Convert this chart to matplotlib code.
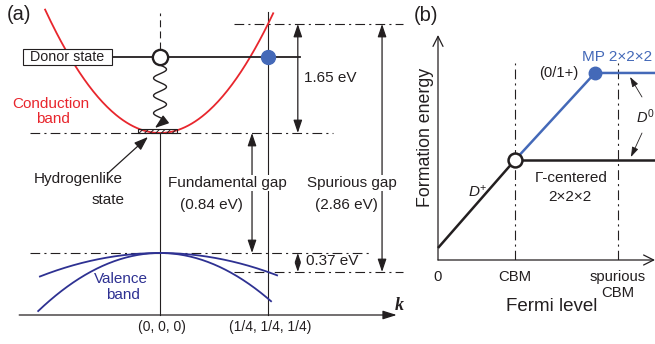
import matplotlib
matplotlib.use('Agg')
import matplotlib.pyplot as plt
import numpy as np
from matplotlib.patches import Rectangle

plt.rcParams['font.family'] = ['Liberation Sans', 'DejaVu Sans']
plt.rcParams['lines.scale_dashes'] = False
plt.rcParams['hatch.linewidth'] = 0.7
plt.rcParams['mathtext.fontset'] = 'custom'
plt.rcParams['mathtext.it'] = 'Liberation Sans:italic'
plt.rcParams['mathtext.rm'] = 'Liberation Sans'

# ---------------- data: panel (a) (schematic energy units) ----------------
k_points = [0.0, 0.25]
k_labels = ['(0, 0, 0)', '(1/4, 1/4, 1/4)']
E_vbm = 0.0
E_cbm = 1.20
E_donor = 1.96
E_spur_cbm = 2.29
E_spur_vbm = -0.19
E_kaxis = -0.62
gap_labels = ['1.65 eV', 'Fundamental gap', '(0.84 eV)', 'Spurious gap', '(2.86 eV)', '0.37 eV']
vb_heavy_curv = 7.3

# ---------------- data: panel (b) (schematic units) ----------------
fermi_ticks = [0.0, 1.0, 2.338]
fermi_labels = ['0', 'CBM', 'spurious']
Dplus_x = [0.0, 1.0]
Dplus_y = [0.156, 1.299]
gamma_x = [1.0, 2.818]
gamma_y = [1.299, 1.299]
mp_x = [1.0, 2.039, 2.818]
mp_y = [1.299, 2.429, 2.429]

TXT = '#231f20'
RED = '#e8262d'
NAVY = '#2e3192'
BLUE = '#4469b8'
DD = (0, (7, 3, 1.5, 3))

fig = plt.figure(figsize=(6.55, 3.44), dpi=100)

# ======================= panel (a) =======================
axa = fig.add_axes([0, 0, 410 / 655, 1])
axa.set_xlim(-0.3704, 0.5787)
axa.set_ylim(-0.91, 2.53)
axa.axis('off')
axa.patch.set_visible(False)

# dash-dot reference levels
axa.plot([-0.301, 0.400], [E_cbm, E_cbm], color=TXT, lw=0.8, ls=DD)
axa.plot([-0.301, 0.491], [E_vbm, E_vbm], color=TXT, lw=0.8, ls=DD)
axa.plot([0.171, 0.562], [E_spur_cbm, E_spur_cbm], color=TXT, lw=0.8, ls=DD)
axa.plot([0.171, 0.562], [E_spur_vbm, E_spur_vbm], color=TXT, lw=0.8, ls=DD)

# vertical k lines
axa.plot([k_points[0]] * 2, [E_kaxis, E_cbm], color=TXT, lw=0.8)
axa.plot([k_points[0]] * 2, [2.04, 2.40], color=TXT, lw=0.8, ls=(0, (5, 3)))
axa.plot([k_points[1]] * 2, [E_kaxis, 2.41], color=TXT, lw=0.8)

# k axis
axa.annotate('', xy=(0.548, E_kaxis), xytext=(-0.326, E_kaxis),
             arrowprops=dict(arrowstyle='-|>,head_length=0.7,head_width=0.22', lw=0.9,
                             color=TXT, mutation_scale=12, shrinkA=0, shrinkB=0))
axa.text(0.553, -0.52, 'k', family='Liberation Serif', fontweight='bold', style='italic',
         fontsize=13, color=TXT, ha='center', va='center')
for kp, kl in zip(k_points, k_labels):
    axa.text(kp + 0.005, -0.74, kl, ha='center', va='center', fontsize=10, color=TXT)

# conduction band
c_cb = (E_spur_cbm - E_cbm) / k_points[1] ** 2
kk = np.linspace(-0.266, 0.262, 200)
axa.plot(kk, E_cbm + c_cb * kk ** 2, color=RED, lw=1.3)

# valence bands
c_vl = (E_vbm - E_spur_vbm) / k_points[1] ** 2
kk = np.linspace(-0.278, 0.271, 200)
axa.plot(kk, E_vbm - c_vl * kk ** 2, color=NAVY, lw=1.3)
kk = np.linspace(-0.282, 0.257, 200)
axa.plot(kk, E_vbm - vb_heavy_curv * kk ** 2, color=NAVY, lw=1.3)

# hydrogenlike hatched state
axa.add_patch(Rectangle((-0.05, E_cbm), 0.09, 0.045, fill=False, hatch='//////',
                        ec=TXT, lw=0.8, zorder=4))

# donor level
axa.plot([-0.15, 0.324], [E_donor, E_donor], color=TXT, lw=1.3, zorder=2)
axa.add_patch(Rectangle((-0.317, 1.88), 0.206, 0.16, fc='white', ec=TXT, lw=0.8, zorder=3))
axa.text(-0.214, E_donor, 'Donor state', ha='center', va='center', fontsize=10.3,
         color=TXT, zorder=4)
axa.plot(k_points[0], E_donor, 'o', ms=11, mfc='white', mec=TXT, mew=1.7, zorder=6)
axa.plot(k_points[1], E_donor, 'o', ms=10, color=BLUE, zorder=6)

# wavy transition
ew = np.linspace(1.88, 1.33, 200)
kw = 0.015 * np.sin(2 * np.pi * (1.88 - ew) / 0.175)
axa.plot(kw, ew, color=TXT, lw=1.0, zorder=5)
axa.annotate('', xy=(-0.012, 1.25), xytext=(kw[-1], ew[-1]),
             arrowprops=dict(arrowstyle='-|>,head_length=0.7,head_width=0.25', lw=1.0,
                             color=TXT, mutation_scale=12, shrinkA=0, shrinkB=0), zorder=5)

# hydrogenlike pointer
axa.annotate('', xy=(-0.028, 1.16), xytext=(-0.120, 0.80),
             arrowprops=dict(arrowstyle='-|>,head_length=0.7,head_width=0.25', lw=0.9,
                             color=TXT, mutation_scale=12, shrinkA=0, shrinkB=0))

# gap arrows
def darrow(x, y0, y1, ms=12):
    axa.annotate('', xy=(x, y1), xytext=(x, y0),
                 arrowprops=dict(arrowstyle='<|-|>,head_length=0.65,head_width=0.22', lw=0.9,
                                 color=TXT, mutation_scale=ms, shrinkA=0, shrinkB=0))

darrow(0.319, E_cbm, E_spur_cbm)
darrow(0.213, E_vbm, E_cbm)
darrow(0.514, E_spur_vbm, E_spur_cbm)
darrow(0.319, E_spur_vbm, E_vbm, ms=8)

fs = 11
wb = dict(boxstyle='square,pad=0.05', fc='white', ec='none')
axa.text(0.333, 1.75, gap_labels[0], ha='left', va='center', fontsize=fs, color=TXT)
axa.text(0.155, 0.70, gap_labels[1], ha='center', va='center', fontsize=fs, color=TXT, bbox=wb)
axa.text(0.118, 0.48, gap_labels[2], ha='center', va='center', fontsize=fs, color=TXT, bbox=wb)
axa.text(0.444, 0.70, gap_labels[3], ha='center', va='center', fontsize=fs, color=TXT, bbox=wb)
axa.text(0.431, 0.48, gap_labels[4], ha='center', va='center', fontsize=fs, color=TXT, bbox=wb)
axa.text(0.338, -0.08, gap_labels[5], ha='left', va='center', fontsize=fs, color=TXT)

axa.text(-0.252, 1.49, 'Conduction', ha='center', va='center', fontsize=fs, color=RED)
axa.text(-0.248, 1.34, 'band', ha='center', va='center', fontsize=fs, color=RED)
axa.text(-0.190, 0.74, 'Hydrogenlike', ha='center', va='center', fontsize=fs, color=TXT)
axa.text(-0.120, 0.53, 'state', ha='center', va='center', fontsize=fs, color=TXT)
axa.text(-0.090, -0.26, 'Valence', ha='center', va='center', fontsize=fs, color=NAVY)
axa.text(-0.086, -0.42, 'band', ha='center', va='center', fontsize=fs, color=NAVY)
axa.text(-0.355, 2.38, '(a)', ha='left', va='center', fontsize=14.5, color=TXT)

# ======================= panel (b) =======================
axb = fig.add_axes([438 / 655, 84 / 344, 217 / 655, 225 / 344])
axb.set_xlim(0, 2.818)
axb.set_ylim(0, 2.922)
axb.axis('off')
axb.patch.set_visible(False)

axb.annotate('', xy=(0, 2.922), xytext=(0, 0),
             arrowprops=dict(arrowstyle='->,head_length=0.6,head_width=0.3', lw=0.9,
                             color=TXT, mutation_scale=12, shrinkA=0, shrinkB=0),
             annotation_clip=False)
axb.annotate('', xy=(2.818, 0), xytext=(0, 0),
             arrowprops=dict(arrowstyle='->,head_length=0.6,head_width=0.3', lw=0.9,
                             color=TXT, mutation_scale=12, shrinkA=0, shrinkB=0),
             annotation_clip=False)

for fx in fermi_ticks[1:]:
    axb.plot([fx, fx], [0, 2.558], color=TXT, lw=0.8, ls=DD)

axb.plot(mp_x, mp_y, color=BLUE, lw=1.8, solid_capstyle='butt', clip_on=False)
axb.plot(Dplus_x, Dplus_y, color=TXT, lw=1.8, solid_capstyle='butt', clip_on=False)
axb.plot(gamma_x, gamma_y, color=TXT, lw=1.8, solid_capstyle='butt', clip_on=False)
axb.plot(Dplus_x[1], Dplus_y[1], 'o', ms=10, mfc='white', mec=TXT, mew=1.8, zorder=6)
axb.plot(mp_x[1], mp_y[1], 'o', ms=9, color=BLUE, zorder=6)

for fx, fl in zip(fermi_ticks, fermi_labels):
    axb.text(fx, -0.221, fl, ha='center', va='center', fontsize=10.7, color=TXT)
axb.text(fermi_ticks[2], -0.429, 'CBM', ha='center', va='center', fontsize=10.7, color=TXT)
axb.text(1.48, -0.61, 'Fermi level', ha='center', va='center', fontsize=13.5, color=TXT)
axb.text(-0.156, 1.597, 'Formation energy', ha='center', va='center', rotation=90,
         fontsize=12.8, color=TXT)

axb.text(1.870, 2.636, 'MP 2\u00d72\u00d72', ha='left', va='center', fontsize=11, color=BLUE)
axb.text(1.818, 2.429, '(0/1+)', ha='right', va='center', fontsize=10.6, color=TXT)
axb.text(1.734, 1.065, '\u0393-centered', ha='center', va='center', fontsize=11, color=TXT)
axb.text(1.708, 0.818, '2\u00d72\u00d72', ha='center', va='center', fontsize=11, color=TXT)
axb.text(0.39, 0.883, '$D^{+}$', ha='left', va='center', fontsize=11, color=TXT)
axb.text(2.565, 1.857, '$D^{0}$', ha='left', va='center', fontsize=10.5, color=TXT)
axb.annotate('', xy=(2.494, 2.377), xytext=(2.649, 2.117),
             arrowprops=dict(arrowstyle='-|>,head_length=0.6,head_width=0.2', lw=0.6,
                             color=TXT, mutation_scale=10, shrinkA=0, shrinkB=0))
axb.annotate('', xy=(2.506, 1.338), xytext=(2.649, 1.649),
             arrowprops=dict(arrowstyle='-|>,head_length=0.6,head_width=0.2', lw=0.6,
                             color=TXT, mutation_scale=10, shrinkA=0, shrinkB=0))
axb.text(-0.312, 3.18, '(b)', ha='left', va='center', fontsize=14.5, color=TXT)

fig.savefig('out.png', dpi=100)
